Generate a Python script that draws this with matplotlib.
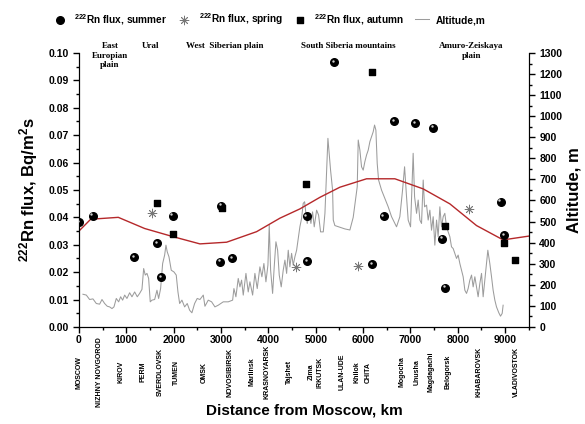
import numpy as np
import matplotlib
matplotlib.use("Agg")
import matplotlib.pyplot as plt
import matplotlib.transforms as mtrans
from matplotlib.ticker import MultipleLocator

plt.rcParams["font.family"] = ["Liberation Sans", "DejaVu Sans"]
plt.rcParams["font.weight"] = "bold"
plt.rcParams["axes.labelweight"] = "bold"
plt.rcParams["mathtext.fontset"] = "custom"
plt.rcParams["mathtext.rm"] = "Liberation Sans"
plt.rcParams["mathtext.bf"] = "Liberation Sans:bold"
plt.rcParams["mathtext.default"] = "bf"

# radon flux, Bq/m2s, vs distance from Moscow (km)
summer_km = [0, 289, 1161, 1647, 1731, 1978, 2984, 2998, 3230, 4806, 4813, 5390,
             6185, 6432, 6657, 7093, 7480, 7663, 7726, 8902, 8979]
summer_flux = [0.0382, 0.0406, 0.0254, 0.0306, 0.0181, 0.0406, 0.0238, 0.0443, 0.0251,
               0.0404, 0.0240, 0.0967, 0.0228, 0.0405, 0.0750, 0.0744, 0.0728, 0.0322,
               0.0143, 0.0457, 0.0336]
spring_km = [1534, 4581, 5890, 8226]
spring_flux = [0.0417, 0.0220, 0.0222, 0.0432]
autumn_km = [1654, 1978, 3012, 4785, 6178, 7726, 8965, 9218]
autumn_flux = [0.0453, 0.0338, 0.0433, 0.0522, 0.0929, 0.0370, 0.0306, 0.0245]

# altitude profile along the route (m)
alt_km = [84, 155, 225, 295, 366, 436, 486, 542, 598, 647, 697, 739, 788, 838, 880, 922,
          965, 1013, 1070, 1119, 1176, 1231, 1281, 1330, 1366, 1400, 1436, 1471, 1505, 1541,
          1598, 1647, 1682, 1724, 1767, 1809, 1837, 1864, 1900, 1949, 2005, 2054, 2090, 2126,
          2174, 2231, 2286, 2337, 2385, 2442, 2497, 2554, 2625, 2660, 2730, 2801, 2871, 2941,
          3047, 3152, 3245, 3272, 3314, 3363, 3399, 3434, 3469, 3526, 3574, 3610, 3667, 3715,
          3764, 3821, 3863, 3905, 3948, 3990, 4018, 4047, 4089, 4123, 4159, 4195, 4229, 4271,
          4313, 4349, 4385, 4419, 4454, 4490, 4524, 4560, 4596, 4630, 4665, 4701, 4735, 4765,
          4792, 4820, 4862, 4898, 4933, 4968, 5018, 5060, 5102, 5159, 5194, 5229, 5257, 5313,
          5356, 5370, 5404, 5510, 5616, 5721, 5791, 5876, 5897, 5932, 5967, 6002, 6037, 6073,
          6108, 6143, 6179, 6213, 6242, 6270, 6298, 6327, 6390, 6460, 6530, 6601, 6706, 6776,
          6833, 6876, 6917, 6952, 7002, 7030, 7057, 7087, 7129, 7163, 7199, 7234, 7269, 7298,
          7340, 7374, 7410, 7445, 7480, 7515, 7551, 7585, 7621, 7656, 7691, 7726, 7762, 7796,
          7832, 7867, 7902, 7937, 7973, 8007, 8043, 8078, 8113, 8149, 8184, 8218, 8254, 8290,
          8324, 8360, 8395, 8429, 8465, 8501, 8535, 8571, 8606, 8634, 8676, 8712, 8746, 8782,
          8817, 8866, 8902, 8937, 8957]
alt_m = [155, 151, 130, 133, 111, 108, 130, 111, 98, 95, 87, 95, 135, 119, 143, 127,
         151, 135, 162, 143, 166, 143, 159, 178, 277, 246, 254, 230, 119, 127,
         130, 174, 135, 182, 301, 341, 388, 356, 333, 269, 261, 246, 166, 111,
         127, 95, 111, 79, 67, 111, 135, 130, 151, 98, 127, 119, 95, 103,
         119, 119, 127, 182, 143, 230, 190, 222, 151, 254, 166, 214, 151, 254,
         182, 285, 238, 301, 214, 293, 483, 269, 159, 285, 404, 364, 246, 190,
         269, 317, 254, 364, 285, 349, 293, 333, 364, 420, 475, 515, 586, 594,
         539, 491, 539, 491, 546, 475, 554, 531, 451, 451, 539, 744, 895, 744,
         649, 507, 481, 473, 465, 460, 520, 665, 887, 839, 760, 744, 784, 816,
         839, 879, 903, 926, 958, 934, 776, 697, 649, 610, 570, 523, 475, 523,
         649, 760, 618, 507, 475, 649, 824, 618, 539, 602, 507, 491, 697, 570,
         578, 507, 554, 459, 523, 388, 507, 428, 570, 475, 523, 539, 475, 451,
         428, 380, 372, 349, 325, 341, 301, 269, 238, 174, 159, 182, 222, 246,
         190, 238, 190, 143, 206, 254, 143, 222, 301, 364, 301, 238, 174, 127,
         95, 67, 51, 64, 103]

# smoothed altitude (red curve)
smooth_km = [0, 247, 830, 1387, 1991, 2554, 3118, 3751, 4243, 4665, 5088, 5510, 6073,
             6671, 7269, 7832, 8395, 8957, 9500]
smooth_m = [455, 511, 520, 467, 428, 394, 402, 452, 516, 560, 615, 663, 703,
            703, 655, 584, 481, 413, 431]

cities = ["MOSCOW", "NIZHNY NOVGOROD", "KIROV", "PERM", "SVERDLOVSK", "TUMEN", "OMSK",
          "NOVOSIBIRSK", "Mariinsk", "KRASNOYARSK", "Tajshet", "Zima", "IRKUTSK",
          "ULAN-UDE", "Khilok", "CHITA", "Mogocha", "Unusha", "Magdagachi", "Belogorsk",
          "KHABAROVSK", "VLADIVOSTOK"]
city_km = [0, 430, 880, 1358, 1724, 2048, 2640, 3188, 3645, 3962, 4454, 4895, 5100,
           5566, 5876, 6108, 6826, 7143, 7431, 7784, 8452, 9241]

regions = ["East\nEuropian\nplain", "Ural", "West  Siberian plain",
           "South Siberia mountains", "Amuro-Zeiskaya\nplain"]
region_km = [654, 1513, 3082, 5689, 8290]

fig = plt.figure(figsize=(5.85, 4.24), dpi=100)
ax = fig.add_axes([0.135, 0.229, 0.769, 0.646])
ax2 = ax.twinx()
ax.set_zorder(ax2.get_zorder() + 1)
ax.patch.set_visible(False)

gray, = ax2.plot(alt_km, alt_m, color="#9c9c9c", lw=0.75, label="Altitude,m")
ax2.plot(smooth_km, smooth_m, color="#b5282a", lw=1.0)

summ = ax.scatter(summer_km, summer_flux, s=30, color="black", zorder=4,
                  label="$^{222}$Rn flux, summer")
hl = mtrans.offset_copy(ax.transData, fig=fig, x=-0.9, y=0.9, units="points")
ax.scatter(summer_km, summer_flux, s=3, color="#cfcfcf", lw=0, zorder=5, transform=hl)
spr = ax.scatter(spring_km, spring_flux, s=40, marker=(8, 2, 0), color="#777777",
                 lw=0.6, zorder=4, label="$^{222}$Rn flux, spring")
aut = ax.scatter(autumn_km, autumn_flux, s=22, marker="s", color="black", zorder=4,
                 label="$^{222}$Rn flux, autumn")

ax.set_xlim(0, 9500)
ax.set_ylim(0, 0.10)
ax2.set_ylim(0, 1300)
ax.xaxis.set_major_locator(MultipleLocator(1000))
ax.xaxis.set_minor_locator(MultipleLocator(500))
ax.yaxis.set_major_locator(MultipleLocator(0.01))
ax.yaxis.set_minor_locator(MultipleLocator(0.005))
ax.yaxis.set_major_formatter(plt.FormatStrFormatter("%.2f"))
ax2.yaxis.set_major_locator(MultipleLocator(100))
ax2.yaxis.set_minor_locator(MultipleLocator(50))

for a in (ax, ax2):
    a.spines["top"].set_visible(False)
    a.tick_params(which="major", direction="out", length=4, width=1, labelsize=7.5)
    a.tick_params(which="minor", direction="out", length=2.5, width=1)
ax.tick_params(axis="x", pad=2)

ax.set_xlabel("Distance from Moscow, km", fontsize=11, labelpad=42)
ax.set_ylabel("$^{222}$Rn flux, Bq/m$^2$s", fontsize=12, labelpad=6)
ax2.set_ylabel("Altitude, m", fontsize=12, labelpad=3)

tr = mtrans.blended_transform_factory(ax.transData, ax.transAxes)
for name, km in zip(cities, city_km):
    ax.text(km, -0.165, name, rotation=90, ha="center", va="center", fontsize=5,
            transform=tr, clip_on=False)
for name, km in zip(regions, region_km):
    ax.text(km, 1.04, name, ha="center", va="top", fontsize=6.5, transform=tr,
            family="Liberation Serif", linespacing=1.25, clip_on=False)

fig.legend(handles=[summ, spr, aut, gray], loc="upper center", bbox_to_anchor=(0.46, 0.995),
           ncol=4, frameon=False, fontsize=7.3, handlelength=1.4, handletextpad=0.7,
           columnspacing=1.0, scatterpoints=1)

fig.savefig("out.png", dpi=100)
